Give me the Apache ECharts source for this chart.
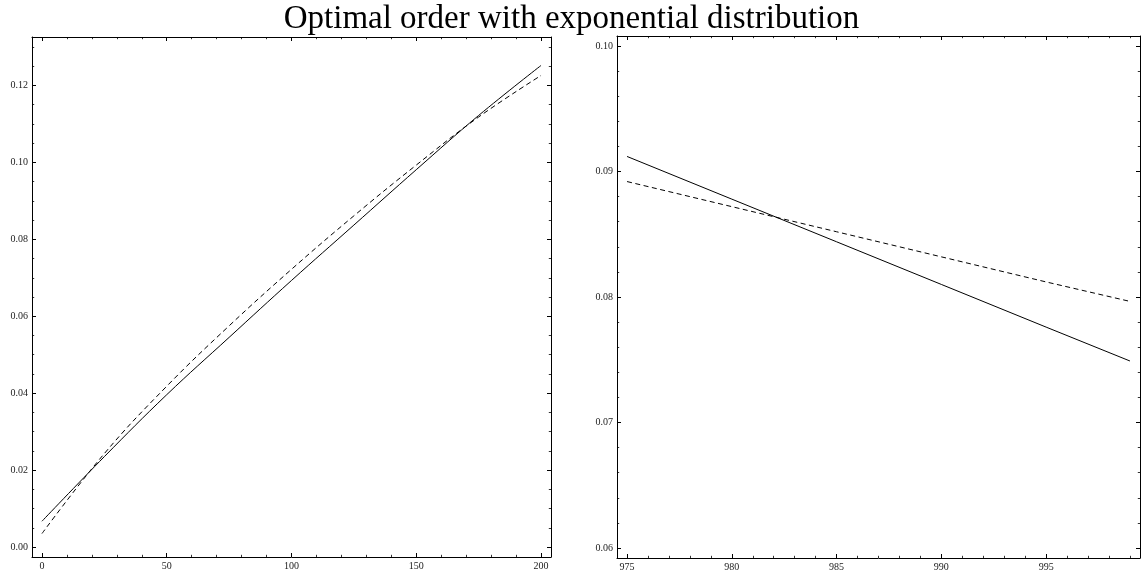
<!DOCTYPE html>
<html>
<head>
<meta charset="utf-8">
<script src="https://cdn.jsdelivr.net/npm/echarts@6/dist/echarts.min.js"></script>
<style>
html,body{margin:0;padding:0;background:#fff;}
#chart{width:1143px;height:576px;}
</style>
</head>
<body>
<div id="chart"></div>
<script>
// ---- data ----
const titleText = 'Optimal order with exponential distribution';

const leftX      = [0, 25, 50, 75, 100, 125, 150, 175, 200];
const leftSolid  = [0.0067, 0.0235, 0.0396, 0.0545, 0.0693, 0.0837, 0.0981, 0.1122, 0.1252];
const leftDashed = [0.0035, 0.0243, 0.0418, 0.0575, 0.0722, 0.0861, 0.0993, 0.1118, 0.1226];

const rightX      = [975, 980, 985, 990, 995, 999];
const rightSolid  = [0.0912, 0.0878, 0.0844, 0.0810, 0.0776, 0.0749];
const rightDashed = [0.0892, 0.0872, 0.0852, 0.0832, 0.0812, 0.07965];

const leftXTicks  = [0, 50, 100, 150, 200];
const leftYTicks  = [0, 0.02, 0.04, 0.06, 0.08, 0.10, 0.12];
const rightXTicks = [975, 980, 985, 990, 995];
const rightYTicks = [0.06, 0.07, 0.08, 0.09, 0.10];

function steps(a, b, s) {
  const out = [];
  for (let v = a; v <= b + s / 2; v += s) out.push(Math.round(v * 1e6) / 1e6);
  return out;
}
const leftXMinor  = steps(0, 200, 10);
const leftYMinor  = steps(0, 0.13, 0.005);
const rightXMinor = steps(975, 999, 1);
const rightYMinor = steps(0.06, 0.10, 0.002);

const FONT = 'Liberation Serif';
const lineCol = '#000';

function axisSet(gridIndex, min, max, major, minor, mainPos, otherPos, fmt) {
  const base = {
    type: 'value', gridIndex, min, max, scale: true,
    splitLine: { show: false }
  };
  const list = [];
  list.push(Object.assign({}, base, {
    position: mainPos,
    axisLine: { show: true, onZero: false, lineStyle: { color: lineCol, width: 1 } },
    axisTick: { show: true, inside: true, length: 4, customValues: major, lineStyle: { color: lineCol, width: 1 } },
    axisLabel: { show: true, customValues: major, formatter: fmt, margin: 4,
      fontFamily: FONT, fontSize: 10, color: '#222' }
  }));
  list.push(Object.assign({}, base, {
    position: mainPos,
    axisLine: { show: false, onZero: false },
    axisTick: { show: true, inside: true, length: 2.2, customValues: minor, lineStyle: { color: lineCol, width: 0.8 } },
    axisLabel: { show: false }
  }));
  list.push(Object.assign({}, base, {
    position: otherPos,
    axisLine: { show: true, onZero: false, lineStyle: { color: lineCol, width: 1 } },
    axisTick: { show: true, inside: true, length: 4, customValues: major, lineStyle: { color: lineCol, width: 1 } },
    axisLabel: { show: false }
  }));
  list.push(Object.assign({}, base, {
    position: otherPos,
    axisLine: { show: false, onZero: false },
    axisTick: { show: true, inside: true, length: 2.2, customValues: minor, lineStyle: { color: lineCol, width: 0.8 } },
    axisLabel: { show: false }
  }));
  return list;
}

const fmtInt = v => String(Math.round(v));
const fmt2 = v => v.toFixed(2);

const xAxes = [].concat(
  axisSet(0, -4, 204, leftXTicks, leftXMinor, 'bottom', 'top', fmtInt),
  axisSet(1, 974.52, 999.48, rightXTicks, rightXMinor, 'bottom', 'top', fmtInt)
);
const yAxes = [].concat(
  axisSet(0, -0.0026, 0.1326, leftYTicks, leftYMinor, 'left', 'right', fmt2),
  axisSet(1, 0.0592, 0.1008, rightYTicks, rightYMinor, 'left', 'right', fmt2)
);

function pairs(xs, ys) { return xs.map((x, i) => [x, ys[i]]); }

const option = {
  animation: false,
  backgroundColor: '#fff',
  title: {
    text: titleText, left: 'center', top: -2,
    textStyle: { fontFamily: FONT, fontSize: 33, fontWeight: 'normal', color: '#000' }
  },
  grid: [
    { left: 32, top: 37, width: 519, height: 520, containLabel: false },
    { left: 617, top: 36, width: 523, height: 522, containLabel: false }
  ],
  xAxis: xAxes,
  yAxis: yAxes,
  series: [
    { type: 'line', xAxisIndex: 0, yAxisIndex: 0, data: pairs(leftX, leftSolid), smooth: 0.4,
      showSymbol: false, lineStyle: { color: '#000', width: 1 } },
    { type: 'line', xAxisIndex: 0, yAxisIndex: 0, data: pairs(leftX, leftDashed), smooth: 0.4,
      showSymbol: false, lineStyle: { color: '#000', width: 1, type: [5, 3.5] } },
    { type: 'line', xAxisIndex: 4, yAxisIndex: 4, data: pairs(rightX, rightSolid),
      showSymbol: false, lineStyle: { color: '#000', width: 1 } },
    { type: 'line', xAxisIndex: 4, yAxisIndex: 4, data: pairs(rightX, rightDashed),
      showSymbol: false, lineStyle: { color: '#000', width: 1, type: [5, 3.5] } }
  ]
};

const chart = echarts.init(document.getElementById('chart'), null, { renderer: 'canvas' });
chart.setOption(option);
</script>
</body>
</html>
